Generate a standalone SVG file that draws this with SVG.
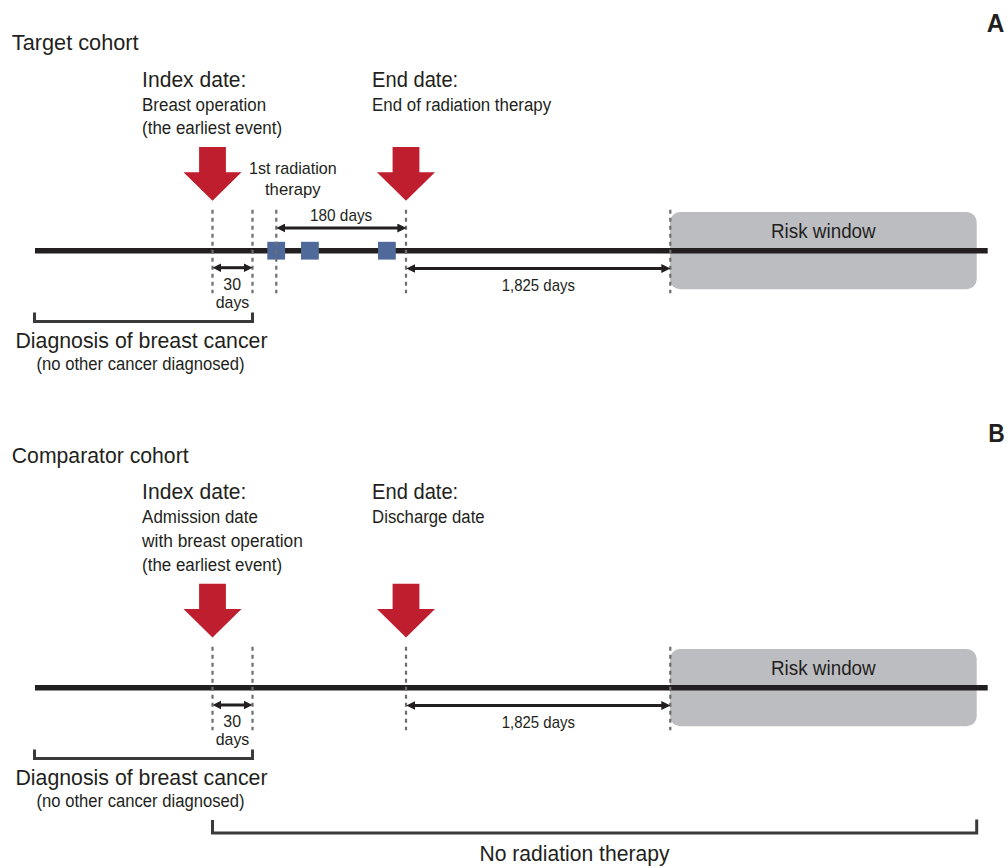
<svg xmlns="http://www.w3.org/2000/svg" xmlns:xlink="http://www.w3.org/1999/xlink" width="1007" height="867" viewBox="0 0 1007 867">
<style>
text{font-family:"Liberation Sans",Arial,sans-serif;fill:#231f20}
.h{font-size:22.5px}
.s{font-size:18px}
.l{font-size:17px}
.r{font-size:20.5px}
.p{font-size:25px;font-weight:bold}
.tl{stroke:#231f20;stroke-width:5.5;fill:none}
.dash{stroke:#6d6e71;stroke-width:2.2;stroke-dasharray:4 4;fill:none}
.dim{stroke:#231f20;stroke-width:3;fill:none;marker-start:url(#ah);marker-end:url(#ah)}
.br{stroke:#3a3a3a;stroke-width:3;fill:none}
.risk{fill:#bcbdc0}
.sq{fill:#4f6a9a}
.red{fill:#be1e2d}
</style>
<defs>
<marker id="ah" viewBox="0 0 10 10" refX="3.3" refY="5" markerWidth="9" markerHeight="9" markerUnits="userSpaceOnUse" orient="auto-start-reverse">
<path d="M0,0 L10,5 L0,10 z" fill="#231f20"/>
</marker>
<path id="redArrow" class="red" d="M-13.4,-53.7 H13.4 V-28.4 H29 L0,0 L-29,-28.4 H-13.4 Z"/>
</defs>

<!-- Panel A -->
<g id="panelA-label"><text class="p" x="986.7" y="31.5" textLength="17.6" lengthAdjust="spacingAndGlyphs">A</text></g>
<g id="target-title"><text class="h" x="11.8" y="50" textLength="126.8" lengthAdjust="spacingAndGlyphs">Target cohort</text></g>
<g id="A-index">
<text class="h" x="142.1" y="87.3" textLength="104.3" lengthAdjust="spacingAndGlyphs">Index date:</text>
<text class="s" x="142.1" y="111" textLength="124" lengthAdjust="spacingAndGlyphs">Breast operation</text>
<text class="s" x="142.1" y="134.3" textLength="140" lengthAdjust="spacingAndGlyphs">(the earliest event)</text>
<use xlink:href="#redArrow" transform="translate(212.5,200.7)"/>
</g>
<g id="A-end">
<text class="h" x="372.1" y="87.3" textLength="86.1" lengthAdjust="spacingAndGlyphs">End date:</text>
<text class="s" x="372.1" y="111" textLength="179" lengthAdjust="spacingAndGlyphs">End of radiation therapy</text>
<use xlink:href="#redArrow" transform="translate(406,200.7)"/>
</g>
<g id="A-risk">
<rect class="risk" x="670" y="212" width="306.7" height="77.3" rx="10"/>
<text class="r" x="771" y="238.3" textLength="104.7" lengthAdjust="spacingAndGlyphs">Risk window</text>
</g>
<g id="A-timeline">
<line class="tl" x1="35" y1="250.7" x2="987.7" y2="250.7"/>
</g>
<g id="A-radiation">
<text class="l" x="249" y="174" textLength="87.7" lengthAdjust="spacingAndGlyphs">1st radiation</text>
<text class="l" x="265" y="195" textLength="55.5" lengthAdjust="spacingAndGlyphs">therapy</text>
<rect class="sq" x="267.3" y="241.8" width="17.8" height="17.8"/>
<rect class="sq" x="301" y="241.8" width="17.8" height="17.8"/>
<rect class="sq" x="378" y="241.8" width="17.8" height="17.8"/>
</g>
<g id="A-guides">
<line class="dash" x1="212.5" y1="209.7" x2="212.5" y2="293.3"/>
<line class="dash" x1="252.5" y1="209.7" x2="252.5" y2="293.3"/>
<line class="dash" x1="276.3" y1="209.7" x2="276.3" y2="293.3"/>
<line class="dash" x1="406" y1="209.7" x2="406" y2="293.3"/>
<line class="dash" x1="670.3" y1="209.7" x2="670.3" y2="293.3"/>
</g>
<g id="A-labels">
<text class="l" x="310" y="221" textLength="62.3" lengthAdjust="spacingAndGlyphs">180 days</text>
<text class="l" x="223.3" y="290" textLength="17.7" lengthAdjust="spacingAndGlyphs">30</text>
<text class="l" x="215.7" y="307.5" textLength="33.6" lengthAdjust="spacingAndGlyphs">days</text>
<text class="l" x="501.7" y="290.7" textLength="73.3" lengthAdjust="spacingAndGlyphs">1,825 days</text>
</g>
<g id="A-diagnosis">
<path class="br" d="M34.5,312.5 V321.5 H252.5 V312.5"/>
<text class="h" x="141.5" y="348" text-anchor="middle" textLength="252" lengthAdjust="spacingAndGlyphs">Diagnosis of breast cancer</text>
<text class="s" x="140.5" y="370" text-anchor="middle" textLength="208" lengthAdjust="spacingAndGlyphs">(no other cancer diagnosed)</text>
</g>

<!-- Panel B -->
<g id="panelB-label"><text class="p" x="988.3" y="441.7" textLength="16.5" lengthAdjust="spacingAndGlyphs">B</text></g>
<g id="comparator-title"><text class="h" x="11.8" y="463.3" textLength="176.8" lengthAdjust="spacingAndGlyphs">Comparator cohort</text></g>
<g id="B-index">
<text class="h" x="142.1" y="499" textLength="104.3" lengthAdjust="spacingAndGlyphs">Index date:</text>
<text class="s" x="142.1" y="523.3" textLength="115.8" lengthAdjust="spacingAndGlyphs">Admission date</text>
<text class="s" x="142.1" y="547.3" textLength="160.8" lengthAdjust="spacingAndGlyphs">with breast operation</text>
<text class="s" x="142.1" y="571" textLength="140" lengthAdjust="spacingAndGlyphs">(the earliest event)</text>
<use xlink:href="#redArrow" transform="translate(212.5,637.5)"/>
</g>
<g id="B-end">
<text class="h" x="372.1" y="499" textLength="86.1" lengthAdjust="spacingAndGlyphs">End date:</text>
<text class="s" x="372.1" y="523.3" textLength="112.5" lengthAdjust="spacingAndGlyphs">Discharge date</text>
<use xlink:href="#redArrow" transform="translate(406,637.5)"/>
</g>
<g id="B-risk">
<rect class="risk" x="670" y="649" width="306.7" height="77.3" rx="10"/>
<text class="r" x="771" y="675.3" textLength="104.7" lengthAdjust="spacingAndGlyphs">Risk window</text>
</g>
<g id="B-timeline">
<line class="tl" x1="35" y1="687.7" x2="987.7" y2="687.7"/>
</g>
<g id="B-guides">
<line class="dash" x1="212.5" y1="646.7" x2="212.5" y2="730.3"/>
<line class="dash" x1="252.5" y1="646.7" x2="252.5" y2="730.3"/>
<line class="dash" x1="406" y1="646.7" x2="406" y2="730.3"/>
<line class="dash" x1="670.3" y1="646.7" x2="670.3" y2="730.3"/>
</g>
<g id="B-labels">
<text class="l" x="223.3" y="727" textLength="17.7" lengthAdjust="spacingAndGlyphs">30</text>
<text class="l" x="215.7" y="744.5" textLength="33.6" lengthAdjust="spacingAndGlyphs">days</text>
<text class="l" x="501.7" y="727.7" textLength="73.3" lengthAdjust="spacingAndGlyphs">1,825 days</text>
</g>
<g id="B-diagnosis">
<path class="br" d="M34.5,749.5 V758.5 H252.5 V749.5"/>
<text class="h" x="141.5" y="785" text-anchor="middle" textLength="252" lengthAdjust="spacingAndGlyphs">Diagnosis of breast cancer</text>
<text class="s" x="140.5" y="807" text-anchor="middle" textLength="208" lengthAdjust="spacingAndGlyphs">(no other cancer diagnosed)</text>
</g>
<g id="B-no-radiation">
<path class="br" d="M212.5,820 V833 H976.7 V819.5"/>
<text class="h" x="479.5" y="861" textLength="190" lengthAdjust="spacingAndGlyphs">No radiation therapy</text>
</g>

<!-- Connectors -->
<g id="connectors">
<line class="dim" x1="282.3" y1="228" x2="400.3" y2="228"/>
<line class="dim" x1="218.5" y1="267.7" x2="246.5" y2="267.7"/>
<line class="dim" x1="412.3" y1="268.5" x2="664.3" y2="268.5"/>
<line class="dim" x1="218.5" y1="705" x2="246.5" y2="705"/>
<line class="dim" x1="412.3" y1="705.5" x2="664.3" y2="705.5"/>
</g>
</svg>
